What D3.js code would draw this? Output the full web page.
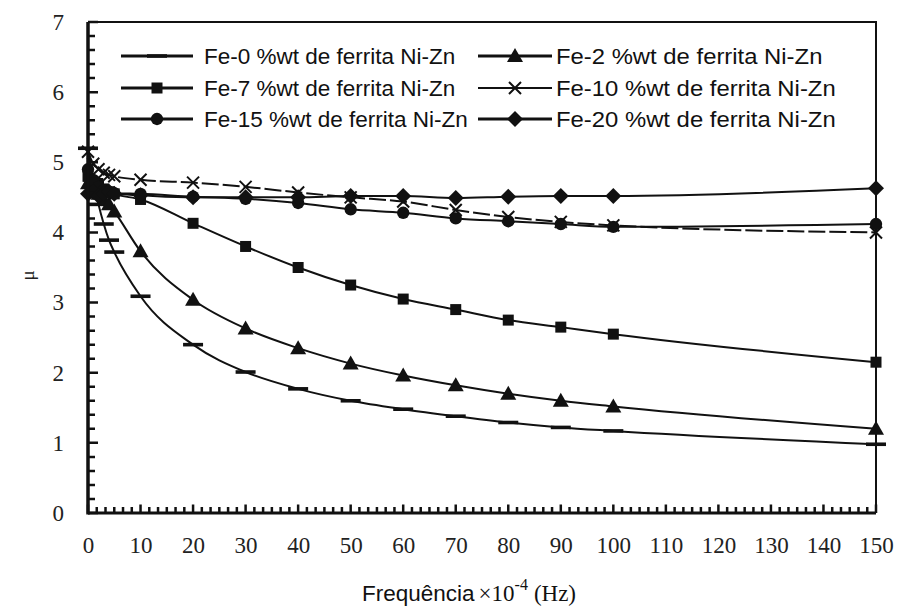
<!DOCTYPE html>
<html>
<head>
<meta charset="utf-8">
<script src="https://cdn.jsdelivr.net/npm/d3@7"></script>
<style>
  html, body { margin: 0; padding: 0; background: #fff; }
  svg { display: block; }
</style>
</head>
<body>
<div id="chart"></div>
<script>
// frequency points (x 10^4 Hz)
const freq = [0, 1, 2, 3, 4, 5, 10, 20, 30, 40, 50, 60, 70, 80, 90, 100, 150];

// permeability per composition
const fe0  = [5.20, 4.75, 4.40, 4.12, 3.89, 3.72, 3.09, 2.40, 2.01, 1.77, 1.60, 1.48, 1.38, 1.29, 1.22, 1.17, 0.98];
const fe2  = [4.70, 4.62, 4.55, 4.47, 4.40, 4.30, 3.73, 3.04, 2.63, 2.35, 2.13, 1.96, 1.82, 1.70, 1.60, 1.52, 1.20];
const fe7  = [4.80, 4.72, 4.66, 4.62, 4.58, 4.55, 4.47, 4.13, 3.80, 3.50, 3.25, 3.05, 2.90, 2.75, 2.65, 2.55, 2.15];
const fe10 = [5.15, 4.98, 4.90, 4.85, 4.82, 4.80, 4.75, 4.71, 4.65, 4.57, 4.50, 4.44, 4.32, 4.22, 4.15, 4.10, 4.00];
const fe15 = [4.90, 4.75, 4.65, 4.60, 4.58, 4.56, 4.55, 4.51, 4.48, 4.42, 4.33, 4.28, 4.20, 4.16, 4.12, 4.08, 4.12];
const fe20 = [4.55, 4.58, 4.52, 4.55, 4.58, 4.55, 4.53, 4.50, 4.50, 4.50, 4.52, 4.52, 4.49, 4.51, 4.52, 4.52, 4.63];

const seriesNames = [
    "Fe-0 %wt de ferrita Ni-Zn", "Fe-2 %wt de ferrita Ni-Zn",
    "Fe-7 %wt de ferrita Ni-Zn", "Fe-10 %wt de ferrita Ni-Zn",
    "Fe-15 %wt de ferrita Ni-Zn", "Fe-20 %wt de ferrita Ni-Zn"
];
const seriesValues = [fe0, fe2, fe7, fe10, fe15, fe20];
const markerKinds = ["dash", "triangle", "square", "cross", "circle", "diamond"];

const xTicks = [0, 10, 20, 30, 40, 50, 60, 70, 80, 90, 100, 110, 120, 130, 140, 150];
const yTicks = [0, 1, 2, 3, 4, 5, 6, 7];

const W = 899, H = 606;
const margin = { top: 22, right: 23, bottom: 93, left: 88 };
const ink = "#111";

const svg = d3.select("#chart").append("svg")
    .attr("width", W)
    .attr("height", H);

const x = d3.scaleLinear()
    .domain([0, 150])
    .range([margin.left, W - margin.right]);

const y = d3.scaleLinear()
    .domain([0, 7])
    .range([H - margin.bottom, margin.top]);

// marker shapes, drawn at the origin
function markerPath(kind) {
    switch (kind) {
        case "dash": return "M-10,-1.8H10V1.8H-10Z";
        case "triangle": return "M0,-8L8,6H-8Z";
        case "square": return "M-5.5,-5.5H5.5V5.5H-5.5Z";
        case "cross": return "M-6,-6L6,6M6,-6L-6,6";
        case "circle": return d3.symbol(d3.symbolCircle, 120)();
        case "diamond": return "M0,-8L8,0L0,8L-8,0Z";
    }
}

function drawMarker(g, kind, cx, cy) {
    const p = g.append("path")
        .attr("d", markerPath(kind))
        .attr("transform", `translate(${cx},${cy})`);
    if (kind === "cross") {
        p.attr("fill", "none").attr("stroke", ink).attr("stroke-width", 2);
    } else {
        p.attr("fill", ink);
    }
}

// frame: top and right border
svg.append("path")
    .attr("d", `M${x(0)},${y(7)}H${x(150)}V${y(0)}`)
    .attr("fill", "none")
    .attr("stroke", ink)
    .attr("stroke-width", 2);

// series
const lineGen = d3.line()
    .x(d => x(d[0]))
    .y(d => y(d[1]))
    .curve(d3.curveMonotoneX);

const plot = svg.append("g");
seriesValues.forEach((vals, i) => {
    const pts = freq.map((f, j) => [f, vals[j]]);
    plot.append("path")
        .datum(pts)
        .attr("d", lineGen)
        .attr("fill", "none")
        .attr("stroke", ink)
        .attr("stroke-width", 2)
        .attr("stroke-dasharray", i === 3 ? "17,4" : null);
    const mg = plot.append("g");
    pts.forEach(p => drawMarker(mg, markerKinds[i], x(p[0]), y(p[1])));
});

// x axis labels
svg.append("g")
    .attr("transform", `translate(0,${y(0)})`)
    .call(d3.axisBottom(x).tickValues(xTicks).tickSize(0).tickPadding(24).tickFormat(d3.format("d")))
    .call(g => g.select(".domain").remove())
    .call(g => g.selectAll("text")
        .attr("fill", "#222")
        .attr("font-family", "Liberation Serif, Times New Roman, serif")
        .attr("font-size", 23));

// y axis labels
svg.append("g")
    .attr("transform", `translate(${x(0)},0)`)
    .call(d3.axisLeft(y).tickValues(yTicks).tickSize(0).tickPadding(24).tickFormat(d3.format("d")))
    .call(g => g.select(".domain").remove())
    .call(g => g.selectAll("text")
        .attr("fill", "#222")
        .attr("font-family", "Liberation Serif, Times New Roman, serif")
        .attr("font-size", 23));

// axis titles
svg.append("text")
    .attr("transform", `translate(34,${(y(0) + y(7)) / 2 + 8}) rotate(-90)`)
    .attr("text-anchor", "middle")
    .attr("fill", "#222")
    .attr("font-family", "Liberation Serif, Times New Roman, serif")
    .attr("font-size", 19)
    .text("μ");

const xt = svg.append("text")
    .attr("x", 362)
    .attr("y", 601)
    .attr("fill", "#111");
xt.append("tspan")
    .attr("font-family", "Liberation Sans, Arial, sans-serif")
    .attr("font-size", 22.5)
    .text("Frequência");
xt.append("tspan")
    .attr("dx", 4)
    .attr("font-family", "Liberation Serif, Times New Roman, serif")
    .attr("font-size", 23)
    .text("×10");
xt.append("tspan")
    .attr("dy", -11)
    .attr("font-family", "Liberation Serif, Times New Roman, serif")
    .attr("font-size", 16)
    .text("-4");
xt.append("tspan")
    .attr("dy", 11)
    .attr("dx", 6)
    .attr("font-family", "Liberation Serif, Times New Roman, serif")
    .attr("font-size", 23)
    .text("(Hz)");

// legend: two columns, three rows
const legendCols = [{ x0: 121, x1: 193, tx: 204, stretch: 1 }, { x0: 478, x1: 552, tx: 556, stretch: 1.06 }];
const legendRows = [56, 88, 119];
seriesNames.forEach((name, i) => {
    const col = legendCols[i % 2];
    const ry = legendRows[Math.floor(i / 2)];
    const g = svg.append("g");
    g.append("line")
        .attr("x1", col.x0).attr("x2", col.x1)
        .attr("y1", ry).attr("y2", ry)
        .attr("stroke", ink)
        .attr("stroke-width", i === 3 ? 2 : 3);
    drawMarker(g, markerKinds[i], (col.x0 + col.x1) / 2, ry);
    const t = g.append("text")
        .attr("x", col.tx)
        .attr("y", ry + 7.5)
        .attr("fill", "#111")
        .attr("font-family", "Liberation Sans, Arial, sans-serif")
        .attr("font-size", 22.5)
        .text(name);
    if (col.stretch !== 1) {
        const w = t.node().getComputedTextLength();
        t.attr("textLength", w * col.stretch).attr("lengthAdjust", "spacingAndGlyphs");
    }
});

// axis lines and inward tick marks, drawn last (minor every 10/6 on x, 0.2 on y)
const xMinor = d3.range(0, 91).map(i => i * 10 / 6);
const yMinor = d3.range(0, 36).map(i => i * 0.2);
const isMajorX = d => xTicks.some(t => Math.abs(t - d) < 1e-6);
const isMajorY = d => Math.abs(d - Math.round(d)) < 1e-6;

svg.append("path")
    .attr("d", xMinor.map(d => `M${x(d)},${y(0)}V${y(0) - (isMajorX(d) ? 8.5 : 6)}`).join(""))
    .attr("fill", "none")
    .attr("stroke", ink)
    .attr("stroke-width", 2.5);

svg.append("path")
    .attr("d", yMinor.map(d => `M${x(0)},${y(d)}H${x(0) + (isMajorY(d) ? 10 : 7)}`).join(""))
    .attr("fill", "none")
    .attr("stroke", ink)
    .attr("stroke-width", 2.5);

svg.append("path")
    .attr("d", `M${x(0)},${y(0)}H${x(150)}`)
    .attr("fill", "none")
    .attr("stroke", ink)
    .attr("stroke-width", 3);

svg.append("path")
    .attr("d", `M${x(0)},${y(0) + 1.5}V${y(7)}`)
    .attr("fill", "none")
    .attr("stroke", ink)
    .attr("stroke-width", 3.5);
</script>
</body>
</html>
